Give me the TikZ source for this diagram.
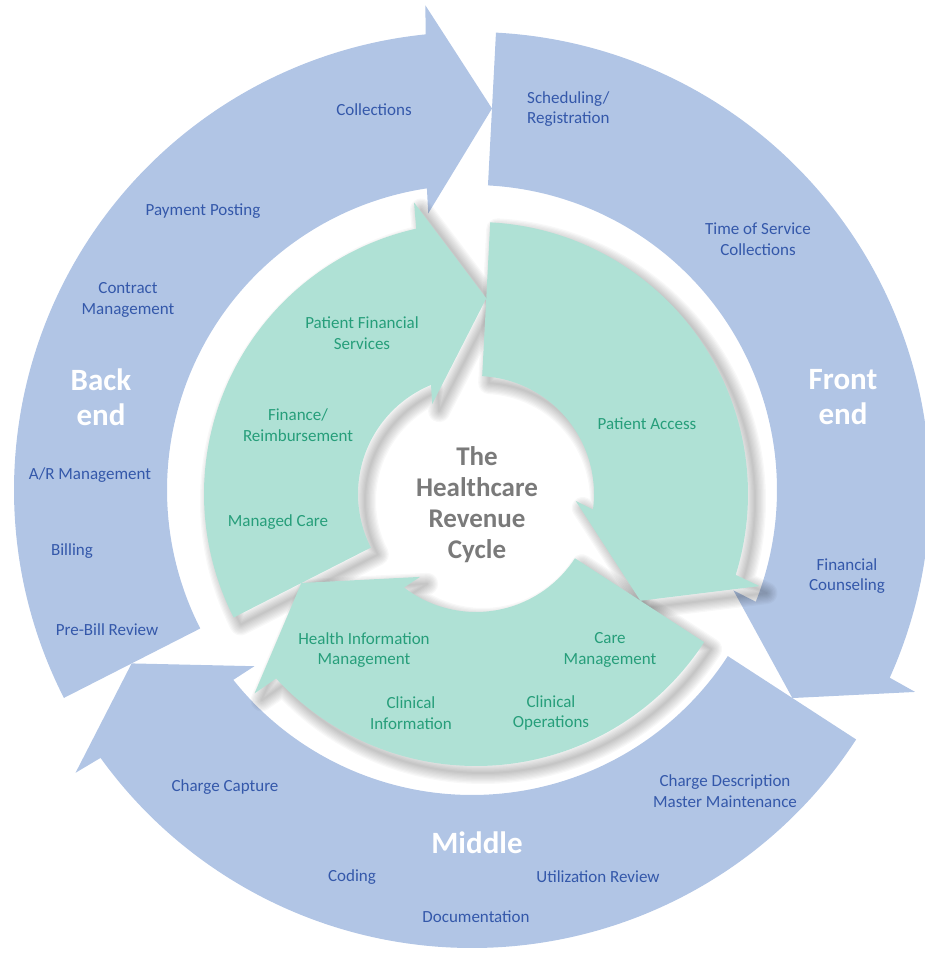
\documentclass[tikz,border=0pt]{standalone}
\usepackage{fontspec}
\setmainfont{Carlito}
\definecolor{ringblue}{RGB}{177,197,229}
\definecolor{ringgreen}{RGB}{175,225,213}
\definecolor{labelblue}{RGB}{52,88,170}
\definecolor{labelgreen}{RGB}{38,158,122}
\definecolor{hubgray}{RGB}{122,122,122}
\newcommand{\outerarrow}[2]{(#1:458) arc[start angle=#1, end angle={#2+8.8}, radius=458pt] -- ({#2+8.5}:487) -- (#2:382) -- ({#2+12}:280) -- ({#2+11.5}:305) arc[start angle={#2+11.5}, end angle=#1, radius=305pt] -- cycle}
\newcommand{\innerarrow}[2]{(#1:272) arc[start angle=#1, end angle={#2+15.7}, radius=272pt] -- ({#2+15}:298) -- (#2:196) -- ({#2+29}:100) -- ({#2+25.4}:118) arc[start angle={#2+25.4}, end angle=#1, radius=118pt] -- cycle}
\begin{document}
\begin{tikzpicture}[x=1pt,y=1pt]
	\tikzstyle{every node}+=[inner sep=0pt]
	\tikzstyle{outerseg}=[fill=ringblue]
	\tikzstyle{innerseg}=[fill=ringgreen]
	\tikzstyle{segshadow}=[draw=black, opacity=0.028, line join=round]
	\tikzstyle{outerlabel}=[text=labelblue, align=center, font=\fontsize{17}{20.5}\selectfont]
	\tikzstyle{innerlabel}=[text=labelgreen, align=center, font=\fontsize{17}{20.5}\selectfont]
	\tikzstyle{phaselabel}=[text=white, align=center, font=\bfseries\fontsize{31}{35}\selectfont]
	\tikzstyle{hublabel}=[text=hubgray, align=center, font=\bfseries\fontsize{27}{31}\selectfont]
	\useasboundingbox (0,0) rectangle (925,953);
	\begin{scope}[shift={(472,463)}]
	\fill [outerseg] \outerarrow{207}{87};
	\fill [outerseg] \outerarrow{87}{-33};
	\fill [outerseg] \outerarrow{327}{207};
	\end{scope}
	\begin{scope}[shift={(476,459)}]
	\foreach \w in {2,4.5,...,22}
		\foreach \t/\h in {87/-33, 327/207, 207/87}
			\draw [segshadow, line width=\w, shift={(7,-7)}] \innerarrow{\t}{\h};
	\fill [innerseg] \innerarrow{87}{-33};
	\fill [innerseg] \innerarrow{327}{207};
	\fill [innerseg] \innerarrow{207}{87};
	\end{scope}
	\node [outerlabel] (collections) at (374,843) {Collections};
	\node [outerlabel, align=left, anchor=west] (scheduling) at (527,844) {Scheduling/\\Registration};
	\node [outerlabel] (posting) at (203,742) {Payment Posting};
	\node [outerlabel] (tos) at (758,714) {Time of Service\\Collections};
	\node [outerlabel] (contract) at (128,653) {Contract\\Management};
	\node [phaselabel] (backend) at (101,556) {Back\\end};
	\node [phaselabel] (frontend) at (843,556) {Front\\end};
	\node [outerlabel] (armgmt) at (90,478) {A/R Management};
	\node [outerlabel] (billing) at (72,402) {Billing};
	\node [outerlabel] (prebill) at (107,323) {Pre-Bill Review};
	\node [outerlabel] (counseling) at (847,377) {Financial\\Counseling};
	\node [outerlabel] (capture) at (225,166) {Charge Capture};
	\node [outerlabel] (cdm) at (725,162) {Charge Description\\Master Maintenance};
	\node [phaselabel] (middle) at (477,110) {Middle};
	\node [outerlabel] (coding) at (352,76) {Coding};
	\node [outerlabel] (utilization) at (598,76) {Utilization Review};
	\node [outerlabel] (documentation) at (476,36) {Documentation};
	\node [innerlabel] (pfs) at (362,620) {Patient Financial\\Services};
	\node [innerlabel] (finance) at (298,528) {Finance/\\Reimbursement};
	\node [innerlabel] (managed) at (278,431) {Managed Care};
	\node [innerlabel] (access) at (647,529) {Patient Access};
	\node [innerlabel] (him) at (364,303) {Health Information\\Management};
	\node [innerlabel] (caremgmt) at (610,303) {Care\\Management};
	\node [innerlabel] (clininfo) at (411,240) {Clinical\\Information};
	\node [innerlabel] (clinops) at (551,240) {Clinical\\Operations};
	\node [hublabel] (hub) at (477,448) {The\\Healthcare\\Revenue\\Cycle};
\end{tikzpicture}
\end{document}
